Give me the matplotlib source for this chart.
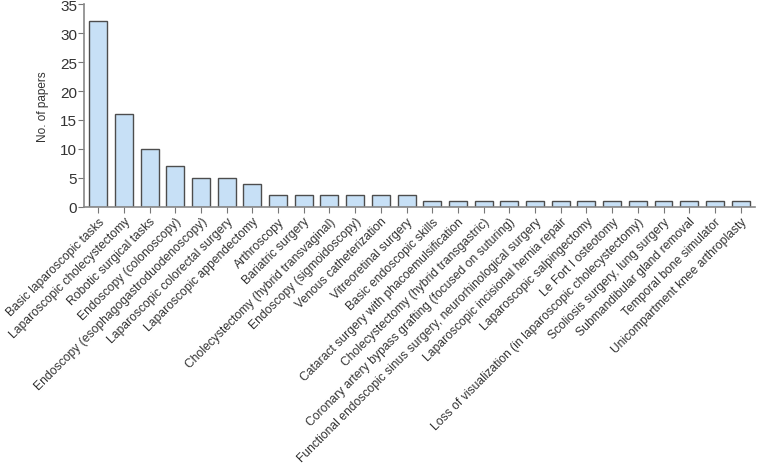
import matplotlib
matplotlib.use("Agg")
import matplotlib.pyplot as plt

plt.rcParams['font.family'] = ['Liberation Sans', 'DejaVu Sans']

categories = [
    "Basic laparoscopic tasks",
    "Laparoscopic cholecystectomy",
    "Robotic surgical tasks",
    "Endoscopy (colonoscopy)",
    "Endoscopy (esophagogastroduodenoscopy)",
    "Laparoscopic colorectal surgery",
    "Laparoscopic appendectomy",
    "Arthroscopy",
    "Bariatric surgery",
    "Cholecystectomy (hybrid transvaginal)",
    "Endoscopy (sigmoidoscopy)",
    "Venous catheterization",
    "Vitreoretinal surgery",
    "Basic endoscopic skills",
    "Cataract surgery with phacoemulsification",
    "Cholecystectomy (hybrid transgastric)",
    "Coronary artery bypass grafting (focused on suturing)",
    "Functional endoscopic sinus surgery, neurorhinological surgery",
    "Laparoscopic incisional hernia repair",
    "Laparoscopic salpingectomy",
    "Le Fort I osteotomy",
    "Loss of visualization (in laparoscopic cholecystectomy)",
    "Scoliosis surgery, lung surgery",
    "Submandibular gland removal",
    "Temporal bone simulator",
    "Unicompartment knee arthroplasty",
]
papers = [32, 16, 10, 7, 5, 5, 4, 2, 2, 2, 2, 2, 2,
          1, 1, 1, 1, 1, 1, 1, 1, 1, 1, 1, 1, 1]

fig = plt.figure(figsize=(7.57, 4.64), dpi=100)
ax = fig.add_axes([0.111, 0.552, 0.886, 0.437])

x = range(len(categories))
ax.bar(x, papers, width=0.7, color="#c7e0f6", edgecolor="#4d4d4d", linewidth=1.0)

ax.set_xlim(-0.55, len(categories) - 0.45)
ax.set_ylim(0, 35)
ax.set_yticks(range(0, 36, 5))
ax.set_ylabel("No. of papers", fontsize=8.5, color="#333333", labelpad=8)

ax.set_xticks(list(x))
ax.set_xticklabels(categories, rotation=45, ha="right", rotation_mode="anchor",
                   fontsize=8.7, color="#333333")
ax.tick_params(axis="y", labelsize=11, colors="#333333", length=4, color="#777777", pad=1)
ax.tick_params(axis="x", length=4, color="#777777", pad=2)

for s in ["top", "right"]:
    ax.spines[s].set_visible(False)
for s in ["left", "bottom"]:
    ax.spines[s].set_color("#888888")
    ax.spines[s].set_linewidth(1.2)

fig.savefig("out.png", dpi=100)
